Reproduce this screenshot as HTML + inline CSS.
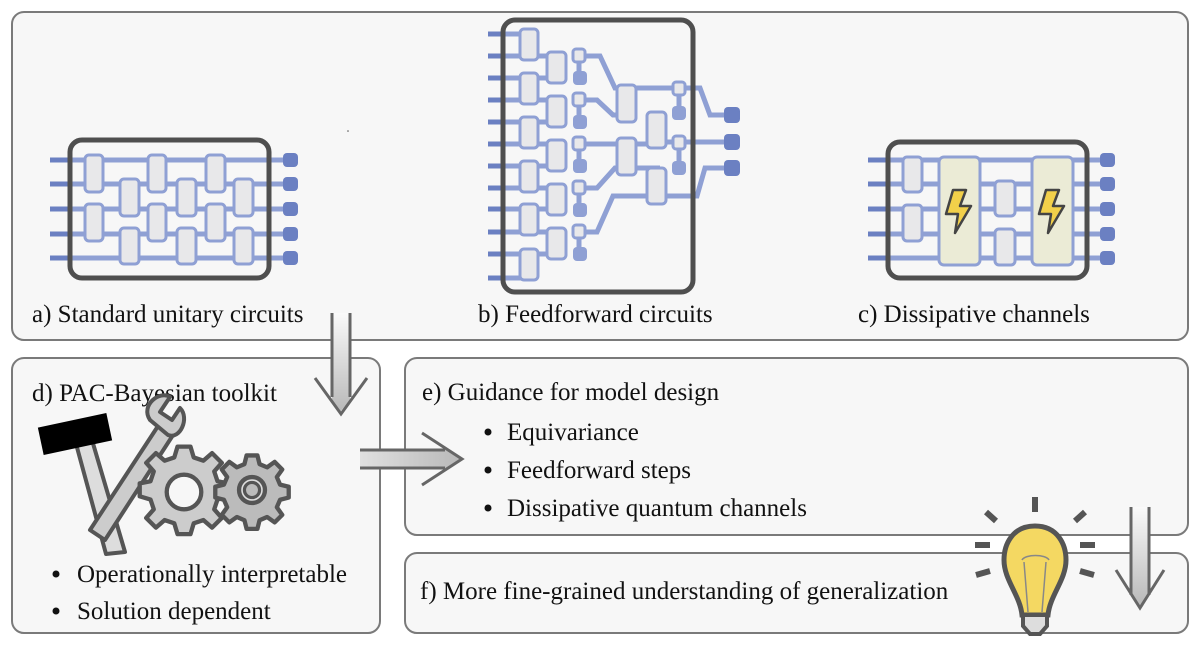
<!DOCTYPE html>
<html><head><meta charset="utf-8"><style>
html,body{margin:0;padding:0;background:#fff}
svg{display:block}
text{font-family:"Liberation Serif",serif;font-size:25px;fill:#111}
.w{stroke:#8fa0d4;stroke-width:5;fill:none}
.ws{stroke:#6b80c2;stroke-width:5}
.g{fill:#e8e8ea;stroke:#8fa0d4;stroke-width:3}
.cap{fill:#6b80c2}
.fr{fill:none;stroke:#4f4f4f;stroke-width:5}
.box{fill:#f7f7f7;stroke:#7a7a7a;stroke-width:2}
</style></head><body>
<svg width="1200" height="648" viewBox="0 0 1200 648">
<defs>
<linearGradient id="gv" x1="0" y1="0" x2="0" y2="1"><stop offset="0" stop-color="#fafafa"/><stop offset="1" stop-color="#b8b8b8"/></linearGradient>
<linearGradient id="gh" x1="0" y1="0" x2="1" y2="0"><stop offset="0" stop-color="#e0e0e0"/><stop offset="1" stop-color="#b8b8b8"/></linearGradient>
</defs>
<rect class="box" x="12" y="12" width="1176" height="328" rx="12"/>
<rect class="box" x="12" y="358" width="368" height="275" rx="12"/>
<rect class="box" x="405" y="358" width="783" height="177" rx="12"/>
<rect class="box" x="405" y="553" width="783" height="80" rx="12"/>

<!-- circuit a -->
<g>
<path class="w" d="M70 160H285M70 184H285M70 209H285M70 234H285M70 258H285"/>
<path class="ws" d="M50 160H72M50 184H72M50 209H72M50 234H72M50 258H72"/>
<g class="cap"><rect x="283" y="153" width="15" height="14" rx="4"/><rect x="283" y="177" width="15" height="14" rx="4"/><rect x="283" y="202" width="15" height="14" rx="4"/><rect x="283" y="227" width="15" height="14" rx="4"/><rect x="283" y="251" width="15" height="14" rx="4"/></g>
<g class="g">
<rect x="85" y="155" width="18" height="37" rx="4"/><rect x="85" y="204" width="18" height="37" rx="4"/>
<rect x="120" y="179" width="19" height="37" rx="4"/><rect x="120" y="228" width="19" height="36" rx="4"/>
<rect x="148" y="155" width="18" height="37" rx="4"/><rect x="148" y="204" width="18" height="37" rx="4"/>
<rect x="177" y="179" width="19" height="37" rx="4"/><rect x="177" y="228" width="19" height="36" rx="4"/>
<rect x="206" y="155" width="19" height="37" rx="4"/><rect x="206" y="204" width="19" height="37" rx="4"/>
<rect x="234" y="179" width="19" height="37" rx="4"/><rect x="234" y="228" width="19" height="36" rx="4"/>
</g>
<rect class="fr" x="70" y="140" width="199" height="138" rx="12"/>
</g>

<!-- circuit c -->
<g>
<path class="w" d="M888 160H1102M888 184H1102M888 209H1102M888 234H1102M888 258H1102"/>
<path class="ws" d="M868 160H890M868 184H890M868 209H890M868 234H890M868 258H890"/>
<g class="cap"><rect x="1100" y="153" width="15" height="14" rx="4"/><rect x="1100" y="177" width="15" height="14" rx="4"/><rect x="1100" y="202" width="15" height="14" rx="4"/><rect x="1100" y="227" width="15" height="14" rx="4"/><rect x="1100" y="251" width="15" height="14" rx="4"/></g>
<g class="g">
<rect x="903" y="157" width="19" height="35" rx="4"/><rect x="903" y="205" width="19" height="36" rx="4"/>
<rect x="995" y="181" width="20" height="35" rx="4"/><rect x="995" y="229" width="20" height="36" rx="4"/>
<rect x="939" y="157" width="41" height="108" rx="5" style="fill:#ebebd6"/>
<rect x="1032" y="157" width="41" height="108" rx="5" style="fill:#ebebd6"/>
</g>
<path d="M953 190L946 214H958L955 233L971 206H960L966 190Z" fill="#f2d04a" stroke="#444" stroke-width="2.5" stroke-linejoin="round"/>
<path d="M1046 190L1039 214H1051L1048 233L1064 206H1053L1059 190Z" fill="#f2d04a" stroke="#444" stroke-width="2.5" stroke-linejoin="round"/>
<rect class="fr" x="888" y="142" width="199" height="136" rx="12"/>
</g>

<!-- circuit b -->
<g>
<path class="ws" d="M488 34H505M488 56H505M488 78H505M488 100H505M488 122H505M488 144H505M488 166H505M488 188H505M488 209H505M488 232H505M488 254H505M488 278H505"/>
<path class="w" d="M503 34H530M503 56H560M503 78H560M503 100H560M503 122H560M503 144H560M503 166H560M503 188H560M503 209H560M503 232H560M503 254H560M503 278H530
M578 56H600L615 88H660M578 100H597L613 115H620M578 144H655M578 188H597L615 168H660M578 232H597L613 196H660
M660 88H700L710 115H730M660 142H730M660 196H697L705 168H730
M679 88V113M679 143V168M579 56V78M579 100V122M579 144V166M579 188V210M579 232V254"/>
<g class="g">
<rect x="520" y="29" width="18" height="31" rx="4"/><rect x="520" y="73" width="18" height="31" rx="4"/><rect x="520" y="117" width="18" height="31" rx="4"/><rect x="520" y="161" width="18" height="31" rx="4"/><rect x="520" y="204" width="18" height="31" rx="4"/><rect x="520" y="249" width="18" height="31" rx="4"/>
<rect x="547" y="52" width="19" height="31" rx="4"/><rect x="547" y="96" width="19" height="31" rx="4"/><rect x="547" y="140" width="19" height="31" rx="4"/><rect x="547" y="184" width="19" height="31" rx="4"/><rect x="547" y="228" width="19" height="31" rx="4"/>
<rect x="573" y="49" width="12" height="13" rx="3"/><rect x="573" y="93" width="12" height="13" rx="3"/><rect x="573" y="137" width="12" height="13" rx="3"/><rect x="573" y="181" width="12" height="13" rx="3"/><rect x="573" y="225" width="12" height="13" rx="3"/>
<rect x="617" y="85" width="19" height="37" rx="4"/><rect x="617" y="138" width="19" height="37" rx="4"/>
<rect x="647" y="112" width="19" height="36" rx="4"/><rect x="647" y="168" width="19" height="36" rx="4"/>
<rect x="673" y="82" width="12" height="13" rx="3"/><rect x="673" y="136" width="12" height="13" rx="3"/>
</g>
<g fill="#8fa0d4"><rect x="573" y="71" width="14" height="14" rx="4"/><rect x="573" y="115" width="14" height="14" rx="4"/><rect x="573" y="159" width="14" height="14" rx="4"/><rect x="573" y="203" width="14" height="14" rx="4"/><rect x="573" y="247" width="14" height="14" rx="4"/><rect x="672" y="106" width="14" height="14" rx="4"/><rect x="672" y="161" width="14" height="14" rx="4"/></g>
<g class="cap"><rect x="724" y="107" width="16" height="16" rx="4"/><rect x="724" y="134" width="16" height="16" rx="4"/><rect x="724" y="160" width="16" height="16" rx="4"/></g>
<rect class="fr" x="503" y="20" width="190" height="272" rx="12"/>
</g>
<circle cx="348" cy="131" r="0.8" fill="#555"/>

<text x="32" y="322">a) Standard unitary circuits</text>
<text x="478" y="322">b) Feedforward circuits</text>
<text x="858" y="322">c) Dissipative channels</text>

<!-- down arrow 1 -->
<path d="M332 313V400L340 412L350 400V313Z" fill="url(#gv)"/>
<path d="M332 313V397M350 313V397M315 378L341 414L367 378" fill="none" stroke="#666" stroke-width="3"/>
<!-- right arrow -->
<path d="M360 450H450L462 459L450 468H360Z" fill="url(#gh)"/>
<path d="M360 450H445M360 468H445M422 433L462 459L422 485" fill="none" stroke="#666" stroke-width="3"/>
<!-- down arrow 2 -->
<path d="M1131 507V595L1140 607L1149 595V507Z" fill="url(#gv)"/>
<path d="M1131 507V595M1149 507V595M1116 570L1140 608L1164 570" fill="none" stroke="#666" stroke-width="3"/>

<text x="32" y="401">d) PAC-Bayesian toolkit</text>
<circle cx="56" cy="574" r="3.5" fill="#111"/><text x="77" y="582">Operationally interpretable</text>
<circle cx="56" cy="611" r="3.5" fill="#111"/><text x="77" y="619">Solution dependent</text>

<!-- toolkit -->
<g stroke="#555" stroke-width="4" stroke-linejoin="round">
<path d="M75 440L92 440L125 552L106 554Z" fill="#ddd"/>
<path d="M160 423L175 432L105 540L90 530Z" fill="#ccc"/>
<path d="M150 420C140 405 160 390 170 397L160 412L172 420L180 408C190 418 180 440 168 435Z" fill="#ccc"/>
<g transform="translate(184,492) scale(1.08)"><path d="M-6 -42h12l3 10l9 3l8-7l9 9l-7 8l3 9l10 2v12l-10 3l-3 9l7 8l-9 9l-8-7l-9 3l-3 10h-12l-3-10l-9-3l-8 7l-9-9l7-8l-3-9l-10-3v-12l10-2l3-9l-7-8l9-9l8 7l9-3z" fill="#ccc"/><circle r="16" fill="#f7f7f7"/></g>
<g transform="translate(252,490) scale(1.08)"><path d="M-5 -32h10l2 8l7 3l7-5l7 7l-5 7l3 7l8 2v10l-8 2l-3 7l5 7l-7 7l-7-5l-7 3l-2 8h-10l-2-8l-7-3l-7 5l-7-7l5-7l-3-7l-8-2v-10l8-2l3-7l-5-7l7-7l7 5l7-3z" fill="#bbb"/><circle r="12" fill="#ddd"/><circle r="7" fill="#bbb" stroke-width="3"/></g>
</g>
<rect x="40" y="420" width="70" height="28" fill="#000" transform="rotate(-12 75 434)"/>

<text x="422" y="400">e) Guidance for model design</text>
<circle cx="488" cy="432" r="3.5" fill="#111"/><text x="507" y="440">Equivariance</text>
<circle cx="488" cy="470" r="3.5" fill="#111"/><text x="507" y="478">Feedforward steps</text>
<circle cx="488" cy="508" r="3.5" fill="#111"/><text x="507" y="516">Dissipative quantum channels</text>
<text x="420" y="599">f) More fine-grained understanding of generalization</text>

<!-- lightbulb -->
<g stroke="#555" stroke-width="6" stroke-linecap="butt">
<path d="M1035 497V512M986 512L996 521M1085 512L1075 521M975 545H990M1080 545H1095M976 575L990 571M1094 575L1080 571"/>
</g>
<path d="M1035 526C1012 526 1004 545 1004 560C1004 580 1020 595 1022 615H1048C1050 595 1066 580 1066 560C1066 545 1058 526 1035 526Z" fill="#f4d862" stroke="#555" stroke-width="5"/>
<path d="M1028 612L1024 562M1042 612L1046 562M1022 560c3-6 24-6 27 0" fill="none" stroke="#888" stroke-width="1.5"/>
<path d="M1023 615H1047V626L1040 634H1030L1023 626Z" fill="#ddd" stroke="#555" stroke-width="4"/>
</svg>
</body></html>
